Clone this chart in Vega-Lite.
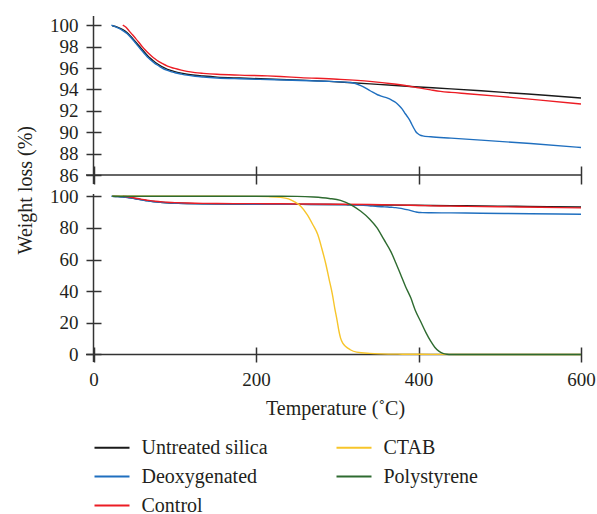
{
  "$schema": "https://vega.github.io/schema/vega-lite/v6.json",
  "padding": {"left": 15, "top": 15, "right": 5, "bottom": 0},
  "bounds": "flush",
  "spacing": 10,
  "datasets": {
    "tga": [
      {"series": "Untreated silica", "T": 23, "w": 99.95},
      {"series": "Untreated silica", "T": 30, "w": 99.8},
      {"series": "Untreated silica", "T": 36, "w": 99.6},
      {"series": "Untreated silica", "T": 41.5, "w": 99.3},
      {"series": "Untreated silica", "T": 46, "w": 98.95},
      {"series": "Untreated silica", "T": 50, "w": 98.6},
      {"series": "Untreated silica", "T": 54, "w": 98.25},
      {"series": "Untreated silica", "T": 58, "w": 97.9},
      {"series": "Untreated silica", "T": 62, "w": 97.55},
      {"series": "Untreated silica", "T": 66, "w": 97.2},
      {"series": "Untreated silica", "T": 70, "w": 96.9},
      {"series": "Untreated silica", "T": 74, "w": 96.65},
      {"series": "Untreated silica", "T": 78, "w": 96.42},
      {"series": "Untreated silica", "T": 82, "w": 96.22},
      {"series": "Untreated silica", "T": 86, "w": 96.05},
      {"series": "Untreated silica", "T": 91, "w": 95.88},
      {"series": "Untreated silica", "T": 96, "w": 95.75},
      {"series": "Untreated silica", "T": 100, "w": 95.66},
      {"series": "Untreated silica", "T": 108, "w": 95.52},
      {"series": "Untreated silica", "T": 115, "w": 95.42},
      {"series": "Untreated silica", "T": 125, "w": 95.32},
      {"series": "Untreated silica", "T": 135, "w": 95.25},
      {"series": "Untreated silica", "T": 152, "w": 95.15},
      {"series": "Untreated silica", "T": 180, "w": 95.06},
      {"series": "Untreated silica", "T": 214, "w": 94.97},
      {"series": "Untreated silica", "T": 255, "w": 94.87},
      {"series": "Untreated silica", "T": 290, "w": 94.75},
      {"series": "Untreated silica", "T": 313, "w": 94.65},
      {"series": "Untreated silica", "T": 350, "w": 94.47},
      {"series": "Untreated silica", "T": 395, "w": 94.25},
      {"series": "Untreated silica", "T": 440, "w": 94.05},
      {"series": "Untreated silica", "T": 477, "w": 93.87},
      {"series": "Untreated silica", "T": 520, "w": 93.64},
      {"series": "Untreated silica", "T": 560, "w": 93.43},
      {"series": "Untreated silica", "T": 600, "w": 93.19},

      {"series": "Deoxygenated", "T": 22, "w": 100},
      {"series": "Deoxygenated", "T": 30, "w": 99.75},
      {"series": "Deoxygenated", "T": 36, "w": 99.5},
      {"series": "Deoxygenated", "T": 41.5, "w": 99.2},
      {"series": "Deoxygenated", "T": 46, "w": 98.85},
      {"series": "Deoxygenated", "T": 50, "w": 98.5},
      {"series": "Deoxygenated", "T": 54, "w": 98.12},
      {"series": "Deoxygenated", "T": 58, "w": 97.75},
      {"series": "Deoxygenated", "T": 62, "w": 97.4},
      {"series": "Deoxygenated", "T": 66, "w": 97.06},
      {"series": "Deoxygenated", "T": 70, "w": 96.78},
      {"series": "Deoxygenated", "T": 74, "w": 96.53},
      {"series": "Deoxygenated", "T": 78, "w": 96.3},
      {"series": "Deoxygenated", "T": 82, "w": 96.1},
      {"series": "Deoxygenated", "T": 86, "w": 95.93},
      {"series": "Deoxygenated", "T": 91, "w": 95.77},
      {"series": "Deoxygenated", "T": 96, "w": 95.64},
      {"series": "Deoxygenated", "T": 100, "w": 95.56},
      {"series": "Deoxygenated", "T": 108, "w": 95.43},
      {"series": "Deoxygenated", "T": 115, "w": 95.33},
      {"series": "Deoxygenated", "T": 125, "w": 95.23},
      {"series": "Deoxygenated", "T": 135, "w": 95.16},
      {"series": "Deoxygenated", "T": 152, "w": 95.07},
      {"series": "Deoxygenated", "T": 180, "w": 94.99},
      {"series": "Deoxygenated", "T": 214, "w": 94.92},
      {"series": "Deoxygenated", "T": 255, "w": 94.83},
      {"series": "Deoxygenated", "T": 290, "w": 94.75},
      {"series": "Deoxygenated", "T": 317, "w": 94.64},
      {"series": "Deoxygenated", "T": 329, "w": 94.36},
      {"series": "Deoxygenated", "T": 341, "w": 93.85},
      {"series": "Deoxygenated", "T": 349.5, "w": 93.5},
      {"series": "Deoxygenated", "T": 356, "w": 93.33},
      {"series": "Deoxygenated", "T": 362, "w": 93.18},
      {"series": "Deoxygenated", "T": 367, "w": 93.0},
      {"series": "Deoxygenated", "T": 372, "w": 92.78},
      {"series": "Deoxygenated", "T": 376, "w": 92.5},
      {"series": "Deoxygenated", "T": 380, "w": 92.16},
      {"series": "Deoxygenated", "T": 384, "w": 91.7},
      {"series": "Deoxygenated", "T": 388.6, "w": 91.2},
      {"series": "Deoxygenated", "T": 392, "w": 90.7},
      {"series": "Deoxygenated", "T": 394.8, "w": 90.3},
      {"series": "Deoxygenated", "T": 397, "w": 90.02},
      {"series": "Deoxygenated", "T": 399, "w": 89.88},
      {"series": "Deoxygenated", "T": 402, "w": 89.73},
      {"series": "Deoxygenated", "T": 405, "w": 89.66},
      {"series": "Deoxygenated", "T": 415, "w": 89.57},
      {"series": "Deoxygenated", "T": 440, "w": 89.45},
      {"series": "Deoxygenated", "T": 477, "w": 89.26},
      {"series": "Deoxygenated", "T": 538, "w": 88.94},
      {"series": "Deoxygenated", "T": 600, "w": 88.57},

      {"series": "Control", "T": 36, "w": 100},
      {"series": "Control", "T": 40, "w": 99.8},
      {"series": "Control", "T": 44, "w": 99.45},
      {"series": "Control", "T": 48, "w": 99.1},
      {"series": "Control", "T": 52, "w": 98.75},
      {"series": "Control", "T": 56, "w": 98.38},
      {"series": "Control", "T": 60, "w": 98.0},
      {"series": "Control", "T": 64, "w": 97.65},
      {"series": "Control", "T": 68, "w": 97.35},
      {"series": "Control", "T": 72, "w": 97.08},
      {"series": "Control", "T": 76, "w": 96.84},
      {"series": "Control", "T": 80, "w": 96.62},
      {"series": "Control", "T": 85, "w": 96.4},
      {"series": "Control", "T": 91, "w": 96.18},
      {"series": "Control", "T": 96, "w": 96.05},
      {"series": "Control", "T": 100, "w": 95.96},
      {"series": "Control", "T": 108, "w": 95.8},
      {"series": "Control", "T": 115, "w": 95.68},
      {"series": "Control", "T": 125, "w": 95.57},
      {"series": "Control", "T": 135, "w": 95.5},
      {"series": "Control", "T": 152, "w": 95.41},
      {"series": "Control", "T": 180, "w": 95.33},
      {"series": "Control", "T": 214, "w": 95.26},
      {"series": "Control", "T": 230, "w": 95.2},
      {"series": "Control", "T": 255, "w": 95.1},
      {"series": "Control", "T": 300, "w": 94.95},
      {"series": "Control", "T": 340, "w": 94.75},
      {"series": "Control", "T": 370, "w": 94.5},
      {"series": "Control", "T": 387, "w": 94.32},
      {"series": "Control", "T": 400, "w": 94.15},
      {"series": "Control", "T": 415, "w": 93.96},
      {"series": "Control", "T": 427, "w": 93.82},
      {"series": "Control", "T": 440, "w": 93.72},
      {"series": "Control", "T": 460, "w": 93.6},
      {"series": "Control", "T": 500, "w": 93.35},
      {"series": "Control", "T": 550, "w": 93.0},
      {"series": "Control", "T": 600, "w": 92.63},

      {"series": "CTAB", "T": 23, "w": 100},
      {"series": "CTAB", "T": 60, "w": 100},
      {"series": "CTAB", "T": 100, "w": 100},
      {"series": "CTAB", "T": 150, "w": 100},
      {"series": "CTAB", "T": 200, "w": 99.9},
      {"series": "CTAB", "T": 215, "w": 99.75},
      {"series": "CTAB", "T": 230, "w": 99.3},
      {"series": "CTAB", "T": 240, "w": 98.3},
      {"series": "CTAB", "T": 247, "w": 96.6},
      {"series": "CTAB", "T": 255, "w": 93.7},
      {"series": "CTAB", "T": 263, "w": 88.4},
      {"series": "CTAB", "T": 270, "w": 82},
      {"series": "CTAB", "T": 276, "w": 75.8},
      {"series": "CTAB", "T": 281, "w": 67},
      {"series": "CTAB", "T": 286, "w": 57},
      {"series": "CTAB", "T": 290, "w": 47.5},
      {"series": "CTAB", "T": 294, "w": 38},
      {"series": "CTAB", "T": 297, "w": 29},
      {"series": "CTAB", "T": 300, "w": 21},
      {"series": "CTAB", "T": 302, "w": 15},
      {"series": "CTAB", "T": 304, "w": 10.5},
      {"series": "CTAB", "T": 307, "w": 7},
      {"series": "CTAB", "T": 310, "w": 5.2},
      {"series": "CTAB", "T": 316, "w": 3},
      {"series": "CTAB", "T": 324, "w": 1.5},
      {"series": "CTAB", "T": 340, "w": 0.7},
      {"series": "CTAB", "T": 354, "w": 0.4},
      {"series": "CTAB", "T": 380, "w": 0.2},
      {"series": "CTAB", "T": 415, "w": 0.1},
      {"series": "CTAB", "T": 450, "w": 0},
      {"series": "CTAB", "T": 600, "w": 0},

      {"series": "Polystyrene", "T": 23, "w": 100},
      {"series": "Polystyrene", "T": 100, "w": 100},
      {"series": "Polystyrene", "T": 200, "w": 100},
      {"series": "Polystyrene", "T": 250, "w": 99.9},
      {"series": "Polystyrene", "T": 271, "w": 99.5},
      {"series": "Polystyrene", "T": 290, "w": 98.6},
      {"series": "Polystyrene", "T": 304, "w": 97.4},
      {"series": "Polystyrene", "T": 317, "w": 94.6},
      {"series": "Polystyrene", "T": 329, "w": 90.5},
      {"series": "Polystyrene", "T": 340, "w": 85.5},
      {"series": "Polystyrene", "T": 349, "w": 80},
      {"series": "Polystyrene", "T": 357, "w": 73},
      {"series": "Polystyrene", "T": 366, "w": 65},
      {"series": "Polystyrene", "T": 372, "w": 58},
      {"series": "Polystyrene", "T": 378, "w": 50.5},
      {"series": "Polystyrene", "T": 384, "w": 43},
      {"series": "Polystyrene", "T": 390.5, "w": 35.8},
      {"series": "Polystyrene", "T": 396, "w": 28},
      {"series": "Polystyrene", "T": 402.5, "w": 21},
      {"series": "Polystyrene", "T": 409, "w": 14},
      {"series": "Polystyrene", "T": 415, "w": 8.4},
      {"series": "Polystyrene", "T": 420, "w": 4.6},
      {"series": "Polystyrene", "T": 425, "w": 2.1},
      {"series": "Polystyrene", "T": 430, "w": 0.7},
      {"series": "Polystyrene", "T": 435, "w": 0.15},
      {"series": "Polystyrene", "T": 440, "w": 0},
      {"series": "Polystyrene", "T": 500, "w": 0},
      {"series": "Polystyrene", "T": 600, "w": 0}
    ]
  },
  "vconcat": [
    {
      "width": 495,
      "height": 168,
      "layer": [
        {
          "data": {"values": [{}]},
          "mark": {"type": "rule", "color": "#333333", "strokeWidth": 1.5},
          "encoding": {"x": {"datum": 0, "type": "quantitative", "scale": {"domain": [-9.24, 600], "nice": false, "zero": false},
                             "axis": {"values": [0, 200, 400, 600], "labels": false, "title": null, "offset": -18, "tickSize": 18, "labelOverlap": false}}}
        },
        {
          "data": {"values": [{}]},
          "mark": {"type": "rule", "color": "#333333", "strokeWidth": 1.5},
          "encoding": {"y": {"datum": 86, "type": "quantitative", "scale": {"domain": [85.159, 100.86], "nice": false, "zero": false},
                             "axis": {"values": [86, 88, 90, 92, 94, 96, 98, 100], "title": null, "offset": -15, "tickSize": 15, "labelPadding": 8, "labelOverlap": false}}}
        },
        {
          "data": {"name": "tga"},
          "transform": [{"filter": "datum.series == 'Untreated silica' || datum.series == 'Deoxygenated' || datum.series == 'Control'"}],
          "mark": {"type": "line", "strokeWidth": 1.4, "interpolate": "monotone", "clip": true},
          "encoding": {
            "x": {"field": "T", "type": "quantitative", "scale": {"domain": [-9.24, 600], "nice": false, "zero": false},
                  "axis": {"values": [0, 200, 400, 600], "labels": false, "title": null, "offset": -18, "tickSize": 18, "labelOverlap": false}},
            "y": {"field": "w", "type": "quantitative", "scale": {"domain": [85.159, 100.86], "nice": false, "zero": false},
                  "axis": {"values": [86, 88, 90, 92, 94, 96, 98, 100], "title": null, "offset": -15, "tickSize": 15, "labelPadding": 8, "labelOverlap": false}},
            "color": {"field": "series", "type": "nominal",
                      "scale": {"domain": ["Untreated silica", "Deoxygenated", "Control", "CTAB", "Polystyrene"],
                                "range": ["#1a1a1a", "#1f6fbf", "#ec1c24", "#f7c52a", "#2e6b30"]},
                      "legend": {"orient": "none", "legendX": 7.5, "legendY": 413, "columns": 2, "title": null,
                                 "symbolType": "stroke", "symbolSize": 1225, "symbolStrokeWidth": 2,
                                 "labelFont": "Liberation Serif", "labelFontSize": 20, "labelColor": "#231f20",
                                 "labelOffset": 11, "rowPadding": -13, "columnPadding": 64}}
          }
        }
      ]
    },
    {
      "width": 495,
      "height": 168,
      "layer": [
        {
          "data": {"values": [{}]},
          "mark": {"type": "rule", "color": "#333333", "strokeWidth": 1.5},
          "encoding": {"x": {"datum": 0, "type": "quantitative", "scale": {"domain": [-9.24, 600], "nice": false, "zero": false},
                             "axis": {"values": [0, 200, 400, 600], "title": "Temperature (˚C)", "offset": -15, "tickSize": 15,
                                      "labelPadding": 8, "labelFlush": false, "labelOverlap": false, "titleX": 249, "titleY": 61, "titleBaseline": "middle"}}}
        },
        {
          "data": {"values": [{}]},
          "mark": {"type": "rule", "color": "#333333", "strokeWidth": 1.5},
          "encoding": {"y": {"datum": 0, "type": "quantitative", "scale": {"domain": [-4.74, 101.4], "nice": false, "zero": false},
                             "axis": {"values": [0, 20, 40, 60, 80, 100], "title": "Weight loss (%)", "offset": -15, "tickSize": 15,
                                      "labelPadding": 8, "labelOverlap": false, "titleX": -75.5, "titleY": -4.3, "titleAngle": -90,
                                      "titleBaseline": "middle", "titleAlign": "center"}}}
        },
        {
          "data": {"name": "tga"},
          "mark": {"type": "line", "strokeWidth": 1.4, "interpolate": "monotone", "clip": true},
          "encoding": {
            "x": {"field": "T", "type": "quantitative", "scale": {"domain": [-9.24, 600], "nice": false, "zero": false},
                  "axis": {"values": [0, 200, 400, 600], "title": "Temperature (˚C)", "offset": -15, "tickSize": 15,
                           "labelPadding": 8, "labelFlush": false, "labelOverlap": false, "titleX": 249, "titleY": 61, "titleBaseline": "middle"}},
            "y": {"field": "w", "type": "quantitative", "scale": {"domain": [-4.74, 101.4], "nice": false, "zero": false},
                  "axis": {"values": [0, 20, 40, 60, 80, 100], "title": "Weight loss (%)", "offset": -15, "tickSize": 15,
                           "labelPadding": 8, "labelOverlap": false, "titleX": -75.5, "titleY": -4.3, "titleAngle": -90,
                           "titleBaseline": "middle", "titleAlign": "center"}},
            "color": {"field": "series", "type": "nominal",
                      "scale": {"domain": ["Untreated silica", "Deoxygenated", "Control", "CTAB", "Polystyrene"],
                                "range": ["#1a1a1a", "#1f6fbf", "#ec1c24", "#f7c52a", "#2e6b30"]},
                      "legend": {"orient": "none", "legendX": 7.5, "legendY": 413, "columns": 2, "title": null,
                                 "symbolType": "stroke", "symbolSize": 1225, "symbolStrokeWidth": 2,
                                 "labelFont": "Liberation Serif", "labelFontSize": 20, "labelColor": "#231f20",
                                 "labelOffset": 11, "rowPadding": -13, "columnPadding": 64}}
          }
        }
      ]
    }
  ],
  "config": {
    "view": {"stroke": null},
    "axis": {
      "domain": false, "grid": false, "labelOverlap": false,
      "tickColor": "#333333", "tickWidth": 1.5,
      "labelFont": "Liberation Serif", "labelFontSize": 19, "labelColor": "#231f20",
      "titleFont": "Liberation Serif", "titleFontSize": 20, "titleFontWeight": "normal", "titleColor": "#231f20"
    }
  }
}
